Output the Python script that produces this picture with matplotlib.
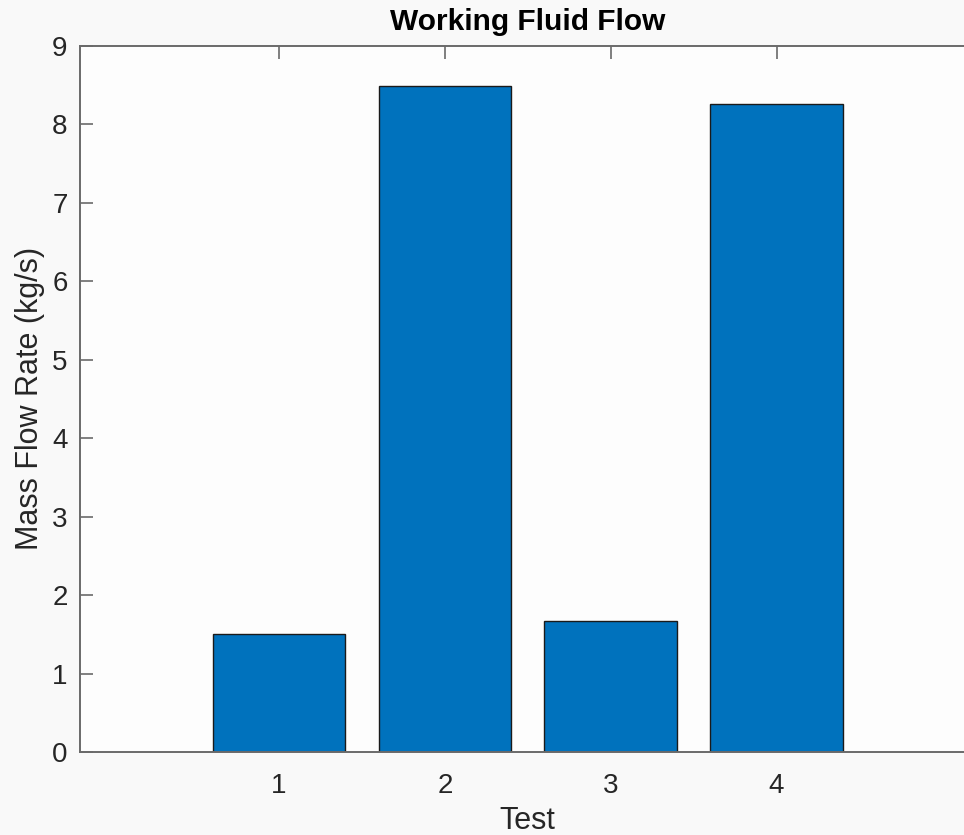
import numpy as np
import matplotlib.pyplot as plt

plt.rcParams['font.family'] = ['Liberation Sans', 'DejaVu Sans']

tests = [1, 2, 3, 4]
flow = [1.50, 8.49, 1.67, 8.26]
yticks = list(range(0, 10))

fig = plt.figure(figsize=(9.64, 8.35), dpi=100, facecolor='#f9f9f9')
ax = fig.add_axes([0.083, 0.0994, 0.929, 0.846])
ax.set_facecolor('#fdfdfd')

ax.bar(tests, flow, width=0.8, color='#0072BD', edgecolor='#1a1a1a', linewidth=1.0, zorder=2)

ax.set_xlim(-0.2, 5.2)
ax.set_ylim(0, 9)
ax.set_xticks(tests)
ax.set_yticks(yticks)

for s in ax.spines.values():
    s.set_color('#6a6a6a')
    s.set_linewidth(1.4)
ax.tick_params(direction='in', length=9, width=1.2, color='#6a6a6a',
               labelsize=20, labelcolor='#262626', top=True, right=True, zorder=3)
ax.tick_params(axis='x', pad=15)
ax.tick_params(axis='y', pad=9)

ax.set_title('Working Fluid Flow', fontsize=21.5, fontweight='bold', pad=11)
ax.set_xlabel('Test', fontsize=22, color='#262626', labelpad=5)
ax.set_ylabel('Mass Flow Rate (kg/s)', fontsize=22, color='#262626', labelpad=5)

fig.savefig('out.png', dpi=100, facecolor=fig.get_facecolor())
